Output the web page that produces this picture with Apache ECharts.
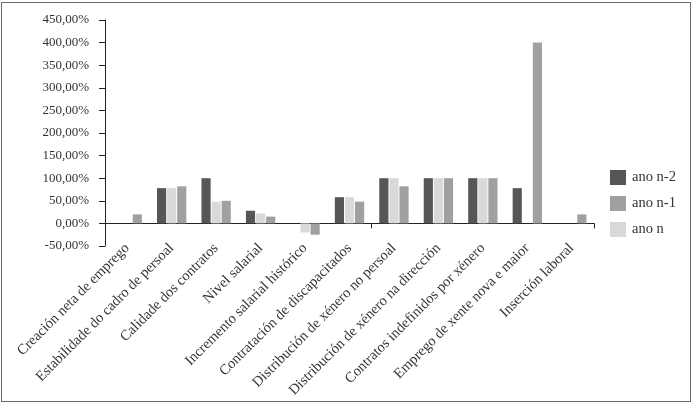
<!DOCTYPE html>
<html>
<head>
<meta charset="utf-8">
<script src="https://cdn.jsdelivr.net/npm/echarts@6/dist/echarts.min.js"></script>
<style>
html,body{margin:0;padding:0;background:#fff;}
#frame{position:absolute;left:1px;top:2px;width:690px;height:400px;border:1.5px solid #6a6a6a;box-sizing:border-box;}
#chart{position:absolute;left:0;top:0;width:694px;height:404px;}
</style>
</head>
<body>
<div id="frame"></div>
<div id="chart"></div>
<script>
var categories = [
  "Creación neta de emprego",
  "Estabilidade do cadro de persoal",
  "Calidade dos contratos",
  "Nivel salarial",
  "Incremento salarial histórico",
  "Contratación de discapacitados",
  "Distribución de xénero no persoal",
  "Distribución de xénero na dirección",
  "Contratos indefinidos por xénero",
  "Emprego de xente nova e maior",
  "Inserción laboral"
];
var anoN2 = [0, 78, 100, 28, 0, 58, 100, 100, 100, 78, 0];
var anoN  = [0, 78, 48, 22, -20, 58, 100, 100, 100, 0, 0];
var anoN1 = [20, 82, 50, 15, -25, 48, 82, 100, 100, 400, 20];
var yTicks = { min: -50, max: 450, interval: 50 };

var chart = echarts.init(document.getElementById('chart'));
var font = 'Liberation Serif';
var option = {
  animation: false,
  backgroundColor: 'transparent',
  grid: { left: 105, right: 100, top: 20, bottom: 158 },
  legend: {
    data: ['ano n-2', 'ano n-1', 'ano n'],
    orient: 'vertical',
    left: 610, top: 170, padding: 0,
    itemWidth: 16, itemHeight: 15, itemGap: 11,
    icon: 'rect',
    textStyle: { fontFamily: font, fontSize: 14.5, color: '#333', padding: [0, 0, 0, 1] }
  },
  xAxis: [
    {
      type: 'category', data: categories,
      axisLine: { onZero: true, lineStyle: { color: '#222', width: 1 } },
      axisTick: { show: true, length: 5, lineStyle: { color: '#222' } },
      axisLabel: { show: false }
    },
    {
      type: 'category', data: categories, position: 'bottom',
      axisLine: { show: false, onZero: false },
      axisTick: { show: false },
      axisLabel: {
        rotate: 45, interval: 0, margin: 0,
        fontFamily: font, fontSize: 14.5, color: '#333'
      }
    }
  ],
  yAxis: {
    type: 'value', min: yTicks.min, max: yTicks.max, interval: yTicks.interval,
    axisLine: { show: true, lineStyle: { color: '#222', width: 1 } },
    axisTick: { show: true, length: 6, lineStyle: { color: '#222' } },
    splitLine: { show: false },
    axisLabel: {
      fontFamily: font, fontSize: 13, color: '#333', margin: 16,
      formatter: function (v) { return v.toFixed(2).replace('.', ',') + '%'; }
    }
  },
  series: [
    { name: 'ano n-2', type: 'bar', data: anoN2, barGap: '10%', barCategoryGap: '34%', itemStyle: { color: '#565656' } },
    { name: 'ano n', type: 'bar', data: anoN, itemStyle: { color: '#d9d9d9' } },
    { name: 'ano n-1', type: 'bar', data: anoN1, itemStyle: { color: '#a0a0a0' } }
  ]
};
chart.setOption(option);
</script>
</body>
</html>
